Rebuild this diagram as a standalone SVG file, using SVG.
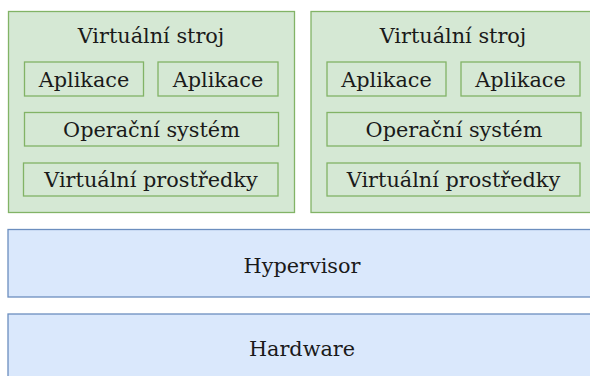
<svg xmlns="http://www.w3.org/2000/svg" width="590" height="376" viewBox="0 0 590 376">
<style>
.vm{fill:#d5e8d4;stroke:#82b366;stroke-width:1.3}
.hw{fill:#dae8fc;stroke:#6c8ebf;stroke-width:1.3}
text{font-family:"DejaVu Serif",serif;font-size:20.8px;fill:#1a1a1a;text-anchor:middle}
</style>
<rect width="590" height="376" fill="#ffffff"/>
<g id="vm1">
<rect class="vm" x="8.5" y="11.5" width="286" height="201"/>
<text x="151" y="43">Virtuální stroj</text>
</g>
<g id="vm1-app1"><rect class="vm" x="24.5" y="62" width="119" height="34"/><text x="84" y="86.5">Aplikace</text></g>
<g id="vm1-app2"><rect class="vm" x="158" y="62" width="120" height="34"/><text x="218" y="86.5">Aplikace</text></g>
<g id="vm1-os"><rect class="vm" x="24.5" y="112.5" width="254" height="33.5"/><text x="151.5" y="137">Operační systém</text></g>
<g id="vm1-vr"><rect class="vm" x="23.5" y="163" width="254.5" height="33"/><text x="151" y="187">Virtuální prostředky</text></g>
<g id="vm2">
<rect class="vm" x="311" y="11.5" width="286" height="201"/>
<text x="453" y="43">Virtuální stroj</text>
</g>
<g id="vm2-app1"><rect class="vm" x="327" y="62" width="119" height="34"/><text x="386.5" y="86.5">Aplikace</text></g>
<g id="vm2-app2"><rect class="vm" x="461" y="62" width="119" height="34"/><text x="520.5" y="86.5">Aplikace</text></g>
<g id="vm2-os"><rect class="vm" x="327" y="112.5" width="254" height="33.5"/><text x="454" y="137">Operační systém</text></g>
<g id="vm2-vr"><rect class="vm" x="327" y="163" width="253" height="33"/><text x="453.5" y="187">Virtuální prostředky</text></g>
<g id="hypervisor"><rect class="hw" x="8" y="229.5" width="600" height="67.5"/><text x="302" y="272.5">Hypervisor</text></g>
<g id="hardware"><rect class="hw" x="8" y="314" width="600" height="80"/><text x="302" y="356">Hardware</text></g>
<g id="connectors"></g>
</svg>
